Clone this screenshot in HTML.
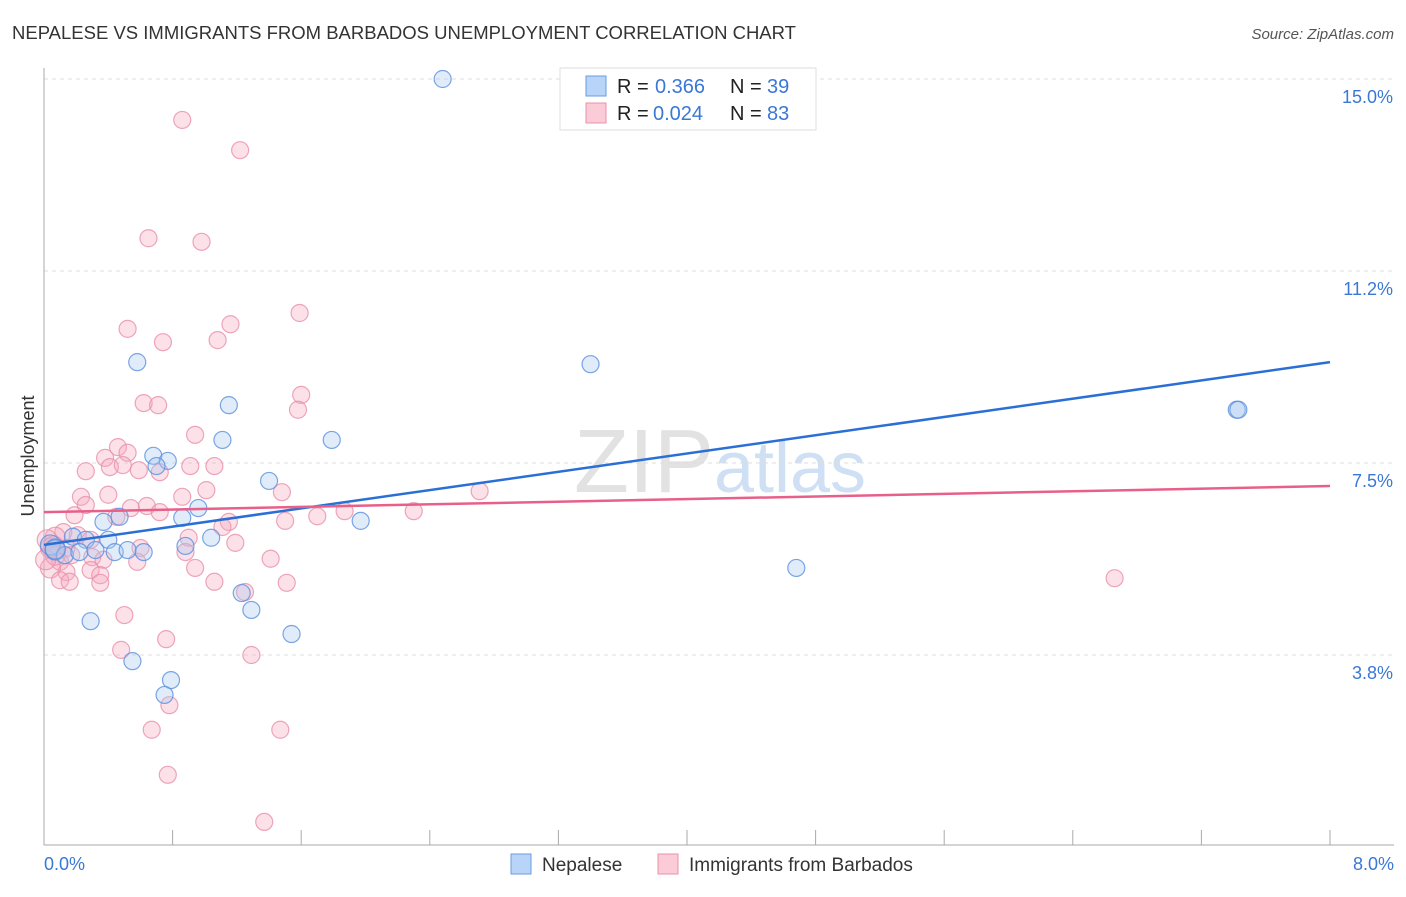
<!DOCTYPE html>
<html><head><meta charset="utf-8"><style>
body{margin:0;background:#fff;font-family:"Liberation Sans",sans-serif;}
svg text{font-family:"Liberation Sans",sans-serif;}
</style></head><body>
<svg id="chart" width="1406" height="892" viewBox="0 0 1406 892">
<text x="12" y="39" font-size="18.5" fill="#333">NEPALESE VS IMMIGRANTS FROM BARBADOS UNEMPLOYMENT CORRELATION CHART</text>
<text x="1394" y="39" font-size="15" fill="#555" font-style="italic" text-anchor="end">Source: ZipAtlas.com</text>
<text x="720" y="492" font-size="90" fill="#e2e2e2" text-anchor="middle" font-family="Liberation Serif">ZIP<tspan fill="#cfdff4" font-family="Liberation Sans" font-size="72">atlas</tspan></text>
<g id="grid"></g><g id="pts"></g><g id="lines"></g>
<text transform="translate(34,456) rotate(-90)" font-size="18" fill="#333" text-anchor="middle">Unemployment</text>
<text x="44" y="870" font-size="18" fill="#3a78d6">0.0%</text>
<text x="1394" y="870" font-size="18" fill="#3a78d6" text-anchor="end">8.0%</text>
<g>
<rect x="560" y="68" width="256" height="62" fill="#fff" stroke="#ddd"/>
<rect x="586" y="76" width="20" height="20" fill="#b8d4f8" stroke="#6a9de0"/>
<rect x="586" y="103" width="20" height="20" fill="#fbcbd8" stroke="#e890aa"/>
<text x="617" y="93" font-size="20" fill="#222">R =</text>
<text x="655" y="93" font-size="20" fill="#3a78d6">0.366</text>
<text x="730" y="93" font-size="20" fill="#222">N =</text>
<text x="767" y="93" font-size="20" fill="#3a78d6">39</text>
<text x="617" y="120" font-size="20" fill="#222">R =</text>
<text x="653" y="120" font-size="20" fill="#3a78d6">0.024</text>
<text x="730" y="120" font-size="20" fill="#222">N =</text>
<text x="767" y="120" font-size="20" fill="#3a78d6">83</text>
</g>
<g>
<rect x="511" y="854" width="20" height="20" fill="#b8d4f8" stroke="#6a9de0"/>
<text x="542" y="871" font-size="19" fill="#333">Nepalese</text>
<rect x="658" y="854" width="20" height="20" fill="#fbcbd8" stroke="#e890aa"/>
<text x="689" y="871" font-size="19" fill="#333">Immigrants from Barbados</text>
</g>
</svg>
<script>
const yTicks=[3.75,7.5,11.25,15];
const yTickLabels=["3.8%","7.5%","11.2%","15.0%"];
const blueX=[2.48,0.58,3.40,1.15,7.42,7.43,1.11,1.79,0.68,0.77,0.70,1.40,0.96,0.86,1.97,0.47,0.37,1.04,0.18,0.26,0.40,0.04,0.07,0.13,0.22,0.32,0.44,0.52,0.62,0.88,4.68,1.23,1.29,1.54,0.29,0.55,0.79,0.75,0.07];
const blueY=[15.0,9.47,9.43,8.63,8.54,8.54,7.95,7.95,7.64,7.54,7.44,7.15,6.62,6.43,6.37,6.45,6.35,6.04,6.06,6.00,6.00,5.90,5.80,5.70,5.76,5.80,5.76,5.80,5.76,5.88,5.45,4.96,4.63,4.16,4.41,3.63,3.26,2.97,5.82];
const pinkX=[0.86,1.22,0.65,0.98,1.59,1.16,0.52,1.08,0.74,1.60,0.62,0.71,1.58,0.94,0.46,0.52,0.38,0.41,0.59,0.49,0.72,0.26,0.91,1.06,1.01,1.48,0.86,0.23,0.40,0.26,0.64,0.54,0.72,0.19,0.45,1.15,1.11,1.50,1.70,1.87,2.30,2.71,0.12,0.07,0.21,0.29,0.02,1.19,0.90,0.88,0.60,0.30,1.41,0.10,0.37,0.58,0.94,0.14,0.29,0.04,0.35,0.10,0.16,1.06,1.51,0.35,1.25,6.66,0.50,0.76,0.48,1.29,0.78,0.67,1.47,0.77,1.37,0.07,0.04,0.01,0.06,0.14,0.17];
const pinkY=[14.20,13.61,11.89,11.82,10.43,10.21,10.12,9.90,9.86,8.83,8.67,8.63,8.54,8.05,7.81,7.70,7.60,7.42,7.36,7.46,7.32,7.34,7.44,7.44,6.97,6.93,6.84,6.84,6.88,6.68,6.66,6.62,6.54,6.48,6.45,6.35,6.25,6.37,6.46,6.56,6.56,6.95,6.15,6.05,6.09,6.00,6.00,5.94,6.04,5.76,5.84,5.66,5.63,5.57,5.61,5.57,5.45,5.37,5.41,5.45,5.31,5.21,5.18,5.18,5.16,5.16,4.98,5.25,4.53,4.06,3.85,3.75,2.77,2.29,2.29,1.41,0.49,5.70,5.84,5.61,5.88,5.84,5.70];
const blueTrend=[5.90,9.47];
const pinkTrend=[6.54,7.05];
const NS="http://www.w3.org/2000/svg";
const sx=v=>44+v*160.75, sy=v=>463-(v-7.5)*51.2;
function mk(t,a,p){const e=document.createElementNS(NS,t);for(const k in a)e.setAttribute(k,a[k]);p.appendChild(e);return e;}
const grid=document.getElementById('grid');
yTicks.forEach((t,i)=>{
 const l=mk('line',{x1:44,x2:1394,y1:sy(t),y2:sy(t),stroke:'#ddd','stroke-dasharray':'4,4'},grid);
 
 
 const tx=mk('text',{x:1393,y:sy(t)+24,'font-size':18,fill:'#3a78d6','text-anchor':'end'},grid);
 tx.textContent=yTickLabels[i];
 
 
});
const ax=mk('line',{x1:44,x2:44,y1:68,y2:845,stroke:'#aaa'},grid);


const bx=mk('line',{x1:44,x2:1394,y1:845,y2:845,stroke:'#aaa'},grid);


for(let i=0;i<=10;i++){const t=mk('line',{x1:sx(i*0.8),x2:sx(i*0.8),y1:830,y2:845,stroke:'#aaa'},grid);
 
 }
const pts=document.getElementById('pts');
function dots(X,Y,fill,stroke,name){X.forEach((x,i)=>{
 const r=x<0.1?10:8.5;
 const c=mk('circle',{cx:sx(x),cy:sy(Y[i]),r:r,fill:fill,'fill-opacity':0.35,stroke:stroke,'stroke-width':1.2,'stroke-opacity':0.8},pts);
 
 
});}
dots(pinkX,pinkY,'#f7a8bf','#e890aa','barbados-point');
dots(blueX,blueY,'#a8c8f2','#5a8ede','nepalese-point');
const lines=document.getElementById('lines');
const bl=mk('line',{x1:sx(0),y1:sy(blueTrend[0]),x2:sx(8),y2:sy(blueTrend[1]),stroke:'#2a6fd6','stroke-width':2.5},lines);


const pl=mk('line',{x1:sx(0),y1:sy(pinkTrend[0]),x2:sx(8),y2:sy(pinkTrend[1]),stroke:'#e8608a','stroke-width':2.5},lines);


</script>
</body></html>
